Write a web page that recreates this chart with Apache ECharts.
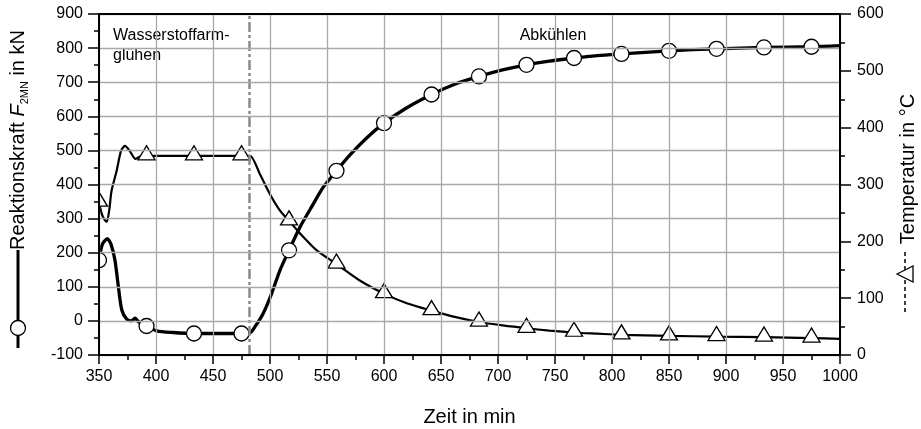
<!DOCTYPE html>
<html>
<head>
<meta charset="utf-8">
<script src="https://cdn.jsdelivr.net/npm/echarts@6/dist/echarts.min.js"></script>
<style>html,body{margin:0;padding:0;background:#fff}#c{width:921px;height:429px}</style>
</head>
<body>
<div id="c"></div>
<script>
// Reaktionskraft (kN) curve
const forceTime = [350, 353, 357.3, 360.5, 364, 367, 370, 374.3, 378.7, 381.6, 384.5, 391.7, 400.6, 415, 433.3, 455, 475, 482.5, 486.8, 494, 501.5, 508.8, 516.7, 526.3, 538, 546.5, 558.3, 570, 585, 600, 620, 641.7, 662, 683.3, 704, 725, 745, 766.7, 787, 808.3, 850, 891.7, 933.3, 975, 1000];
const forceValues = [178, 225, 241, 225, 178, 100, 32, 5, 0, 8, -2, -15, -29, -34, -37, -37, -37, -35, -17, 22, 81, 149, 207, 275, 343, 391, 440, 486, 537, 580, 625, 664, 694, 717, 736, 751, 762, 771, 778, 783, 792, 798, 802, 804, 807];
// Temperatur (°C) curve
const tempTime = [350, 353, 356.7, 359, 361, 365.5, 369.3, 372.8, 377, 382, 386, 391.7, 433.3, 475, 482.5, 491.2, 500, 508.8, 516.7, 526.3, 541, 558.3, 578, 600, 620, 641.7, 662, 683.3, 704, 725, 745, 766.7, 787, 808.3, 850, 891.7, 933.3, 975, 1000];
const tempValues = [269, 245, 234, 255, 289, 324, 359, 368, 359, 345, 349, 350.4, 350.4, 350.4, 350.4, 318, 283, 254, 236, 214, 184, 160, 132, 108, 91, 78, 67, 58, 52, 47, 43, 39.6, 37.5, 35.4, 33.6, 32.4, 31.5, 29.8, 28.5];
// Marker positions
const markerTime = [350, 391.7, 433.3, 475, 516.7, 558.3, 600, 641.7, 683.3, 725, 766.7, 808.3, 850, 891.7, 933.3, 975];
const forceMarkers = [178, -15, -37, -37, 207, 440, 580, 664, 717, 751, 771, 783, 792, 798, 802, 804];
const tempMarkers = [269, 350.4, 350.4, 350.4, 236, 160, 108, 78, 58, 47, 40, 35.4, 33.6, 32.4, 31.5, 29.8];
const xTicks = { min: 350, max: 1000, interval: 50 };
const yLeftTicks = { min: -100, max: 900, interval: 100 };
const yRightTicks = { min: 0, max: 600, interval: 100 };
const phaseBoundary = 482;

const zip = (a, b) => a.map((v, i) => [v, b[i]]);
const FONT = 'Liberation Sans, Arial, sans-serif';
const chart = echarts.init(document.getElementById('c'), null, { renderer: 'canvas' });
const plain = v => String(v);

const axisCommon = {
  axisLine: { show: true, onZero: false, lineStyle: { color: '#000', width: 2 } },
  axisLabel: { color: '#000', fontSize: 16, fontFamily: FONT, formatter: plain },
  minorTick: { show: true, splitNumber: 2, length: 5, lineStyle: { color: '#000', width: 1.5 } },
  splitLine: { show: true, lineStyle: { color: '#a8a8a8', width: 1.3 } }
};

chart.setOption({
  animation: false,
  backgroundColor: '#fff',
  grid: { left: 99, right: 81, top: 14, bottom: 74, containLabel: false, outerBoundsMode: 'none' },
  xAxis: [{
    type: 'value', min: xTicks.min, max: xTicks.max, interval: xTicks.interval, position: 'bottom',
    ...axisCommon,
    axisTick: { show: true, length: 9, lineStyle: { color: '#000', width: 1.5 } },
    axisLabel: { ...axisCommon.axisLabel, margin: 14 },
    name: 'Zeit in min', nameLocation: 'middle', nameGap: 52,
    nameTextStyle: { color: '#000', fontSize: 20, fontFamily: FONT },
    z: 10
  }, {
    type: 'value', min: xTicks.min, max: xTicks.max, position: 'top',
    axisLine: { show: true, onZero: false, lineStyle: { color: '#000', width: 2 } },
    axisTick: { show: false }, axisLabel: { show: false }, splitLine: { show: false }, z: 10
  }],
  yAxis: [{
    type: 'value', min: yLeftTicks.min, max: yLeftTicks.max, interval: yLeftTicks.interval, position: 'left',
    ...axisCommon,
    axisTick: { show: true, length: 11, lineStyle: { color: '#000', width: 1.5 } },
    axisLabel: { ...axisCommon.axisLabel, margin: 16 },
    z: 10
  }, {
    type: 'value', min: yRightTicks.min, max: yRightTicks.max, interval: yRightTicks.interval, position: 'right',
    ...axisCommon,
    splitLine: { show: false },
    axisTick: { show: true, length: 11, lineStyle: { color: '#000', width: 1.5 } },
    axisLabel: { ...axisCommon.axisLabel, margin: 17 },
    z: 10
  }],
  series: [{
    type: 'line', name: 'Temperatur', yAxisIndex: 1,
    data: zip(tempTime, tempValues), smooth: 0.25, showSymbol: false,
    lineStyle: { color: '#000', width: 2.2 }, z: 2
  }, {
    type: 'line', name: 'Reaktionskraft', yAxisIndex: 0,
    data: zip(forceTime, forceValues), smooth: 0.25, showSymbol: false,
    lineStyle: { color: '#000', width: 3.3 }, z: 2,
    markLine: {
      silent: true, symbol: 'none', label: { show: false },
      lineStyle: { color: '#8a8a8a', width: 2.5, type: [10, 3, 3, 3] },
      data: [{ xAxis: phaseBoundary }]
    }
  }, {
    type: 'scatter', yAxisIndex: 1, data: zip(markerTime, tempMarkers),
    symbol: 'triangle', symbolSize: [17, 14], symbolOffset: [0, -3],
    itemStyle: { color: '#fff', borderColor: '#000', borderWidth: 1.3, opacity: 1 }, z: 3
  }, {
    type: 'scatter', yAxisIndex: 0, data: zip(markerTime, forceMarkers),
    symbol: 'circle', symbolSize: 15,
    itemStyle: { color: '#fff', borderColor: '#000', borderWidth: 1.3, opacity: 1 }, z: 3
  }],
  graphic: [
    // mask left of plot so edge markers appear clipped
    { type: 'rect', shape: { x: 84, y: 170, width: 14, height: 120 }, style: { fill: '#fff' }, z: 5, silent: true },
    { type: 'text', x: 105, y: 24, z: 6,
      style: { text: 'Wasserstoffarm-\nglühen', font: '16px ' + FONT, fill: '#000', lineHeight: 20,
               backgroundColor: '#fff', padding: [2, 8, 4, 8] } },
    { type: 'text', x: 553, y: 36, z: 6,
      style: { text: 'Abkühlen', font: '16px ' + FONT, fill: '#000', align: 'center', verticalAlign: 'middle',
               backgroundColor: '#fff', padding: [3, 5, 3, 5] } },
    // left axis title
    { type: 'text', x: 18, y: 140, rotation: Math.PI / 2, z: 6,
      style: {
        text: '{n|Reaktionskraft }{i|F}{s|2MN}{n| in kN}', align: 'center', verticalAlign: 'middle', fill: '#000',
        rich: {
          n: { fontSize: 20, fontFamily: FONT, lineHeight: 24, verticalAlign: 'middle' },
          i: { fontSize: 20, fontFamily: FONT, fontStyle: 'italic', lineHeight: 24, verticalAlign: 'middle' },
          s: { fontSize: 11, fontFamily: FONT, lineHeight: 24, verticalAlign: 'bottom' }
        }
      } },
    { type: 'line', shape: { x1: 18, y1: 250, x2: 18, y2: 348 }, style: { stroke: '#000', lineWidth: 3 }, z: 6 },
    { type: 'circle', shape: { cx: 18, cy: 328, r: 7.5 }, style: { fill: '#fff', stroke: '#000', lineWidth: 1.3 }, z: 7 },
    // right axis title
    { type: 'text', x: 908, y: 169, rotation: Math.PI / 2, z: 6,
      style: { text: 'Temperatur in °C', font: '20px ' + FONT, fill: '#000', align: 'center', verticalAlign: 'middle' } },
    { type: 'line', shape: { x1: 905, y1: 252, x2: 905, y2: 313 }, style: { stroke: '#000', lineWidth: 1.5, lineDash: [4, 3] }, z: 6 },
    { type: 'polygon', shape: { points: [[897, 274], [913, 266], [913, 282]] }, style: { fill: '#fff', stroke: '#000', lineWidth: 1.3 }, z: 7 }
  ]
});
</script>
</body>
</html>
